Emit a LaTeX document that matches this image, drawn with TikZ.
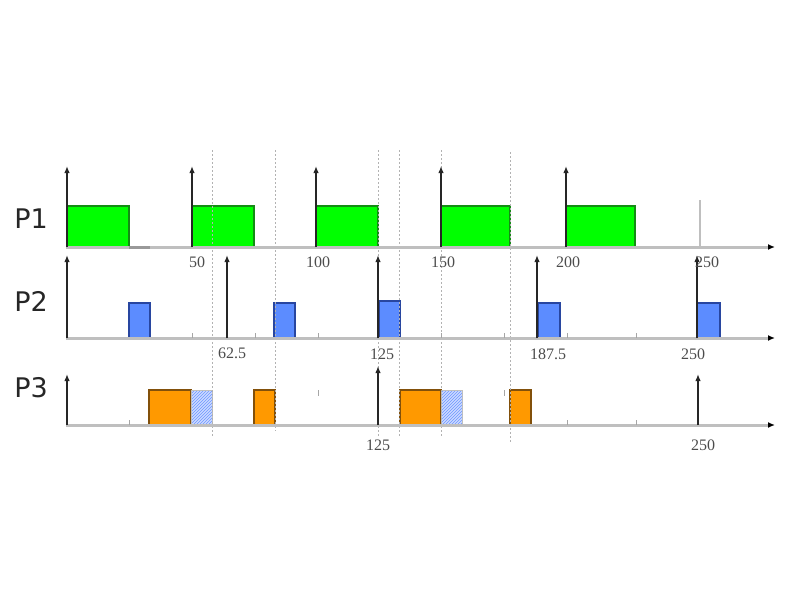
\documentclass[tikz,border=0pt]{standalone}
\usepackage{fontspec}
\setmainfont{Liberation Serif}
\newfontfamily\plabelfont{DejaVu Sans}
\usetikzlibrary{arrows.meta,patterns}
\definecolor{jobgreen}{RGB}{0,255,0}
\definecolor{jobgreenline}{RGB}{20,140,20}
\definecolor{jobblue}{RGB}{92,140,255}
\definecolor{jobblueline}{RGB}{40,70,160}
\definecolor{joborange}{RGB}{255,153,0}
\definecolor{joborangeline}{RGB}{130,80,10}
\definecolor{hatchblue}{RGB}{110,150,255}
\begin{document}
\begin{tikzpicture}[x=1pt,y=-1pt,
  axisline/.style={draw=black!25,line width=3pt,-{Latex[length=7pt,width=6pt,color=black]}},
  rel/.style={draw=black!85,line width=2.2pt,-{Latex[length=7pt,width=5.5pt]}},
  guide/.style={draw=black!30,line width=1pt,dash pattern=on 1.5pt off 2.5pt},
  tk/.style={draw=black!35,line width=1pt},
  jobA/.style={fill=jobgreen,draw=jobgreenline,line width=1.4pt},
  jobB/.style={fill=jobblue,draw=jobblueline,line width=1.4pt},
  jobC/.style={fill=joborange,draw=joborangeline,line width=1.4pt},
  jobHbg/.style={fill=hatchblue!35},
  jobH/.style={pattern=north east lines,pattern color=hatchblue,draw=black!25,line width=1pt},
  tlabel/.style={text=black!70,font=\fontsize{16}{16}\selectfont,inner sep=0pt},
  plab/.style={font=\plabelfont\fontsize{27}{27}\selectfont,text=black!85,inner sep=0pt}
]
\useasboundingbox (0,0) rectangle (800,600);

% ---- P1 boxes
\draw[jobA] (67,206) rectangle (129,247);
\draw[jobA] (192,206) rectangle (254,247);
\draw[jobA] (316,206) rectangle (378,247);
\draw[jobA] (441,206) rectangle (510,247);
\draw[jobA] (566,206) rectangle (635,247);

% ---- P2 boxes
\draw[jobB] (129,303) rectangle (150,338);
\draw[jobB] (274,303) rectangle (295,338);
\draw[jobB] (379,301) rectangle (400,338);
\draw[jobB] (538,303) rectangle (560,338);
\draw[jobB] (697,303) rectangle (720,338);

% ---- P3 boxes
\draw[jobC] (149,390) rectangle (191,425);
\fill[jobHbg] (191,390) rectangle (212,425);
\draw[jobH] (191,390) rectangle (212,425);
\draw[jobC] (254,390) rectangle (275,425);
\draw[jobC] (400,390) rectangle (441,425);
\fill[jobHbg] (441,390) rectangle (462,425);
\draw[jobH] (441,390) rectangle (462,425);
\draw[jobC] (510,390) rectangle (531,425);

% ---- dotted guides
\draw[guide] (212,150) -- (212,436);
\draw[guide] (275,150) -- (275,431);
\draw[guide] (378,150) -- (378,438);
\draw[guide] (399,150) -- (399,436);
\draw[guide] (441,150) -- (441,436);
\draw[guide] (510,152) -- (510,443);

% ---- axes
\coordinate (a1s) at (66,247);  \coordinate (a1e) at (775,247);
\coordinate (a2s) at (66,338);  \coordinate (a2e) at (775,338);
\coordinate (a3s) at (66,425);  \coordinate (a3e) at (775,425);
\draw[axisline] (a1s) -- (a1e);
\draw[axisline] (a2s) -- (a2e);
\draw[axisline] (a3s) -- (a3e);
\draw[draw=black!40,line width=3pt] (129,247) -- (150,247);

% ---- ticks
\foreach \x in {192,255,318,441,504,567,636} \draw[tk] (\x,333) -- (\x,338);
\foreach \x in {129,567,636} \draw[tk] (\x,420) -- (\x,425);
\foreach \x in {318,504} \draw[tk] (\x,390) -- (\x,396);

% ---- release arrows P1
\foreach \x in {67,192,316,441,566} \draw[rel] (\x,247) -- (\x,166);
\draw[draw=black!25,line width=2.5pt] (700,247) -- (700,200);

% ---- release arrows P2
\foreach \x in {67,227,378,537,697} \draw[rel] (\x,338) -- (\x,255);

% ---- release arrows P3
\draw[rel] (67,425) -- (67,374);
\draw[rel] (378,425) -- (378,366);
\draw[rel] (698,425) -- (698,374);

% ---- labels
\node[plab] (p1) at (31,219) {P1};
\node[plab] (p2) at (31,301) {P2};
\node[plab] (p3) at (31,388) {P3};

\node[tlabel] (l50)  at (197,262) {50};
\node[tlabel] (l100) at (318,262) {100};
\node[tlabel] (l150) at (443,262) {150};
\node[tlabel] (l200) at (568,262) {200};
\node[tlabel] (l250) at (707,262) {250};

\node[tlabel] (m625)  at (232,353) {62.5};
\node[tlabel] (m125)  at (382,354) {125};
\node[tlabel] (m1875) at (548,354) {187.5};
\node[tlabel] (m250)  at (693,354) {250};

\node[tlabel] (n125) at (378,445) {125};
\node[tlabel] (n250) at (703,445) {250};
\end{tikzpicture}
\end{document}
